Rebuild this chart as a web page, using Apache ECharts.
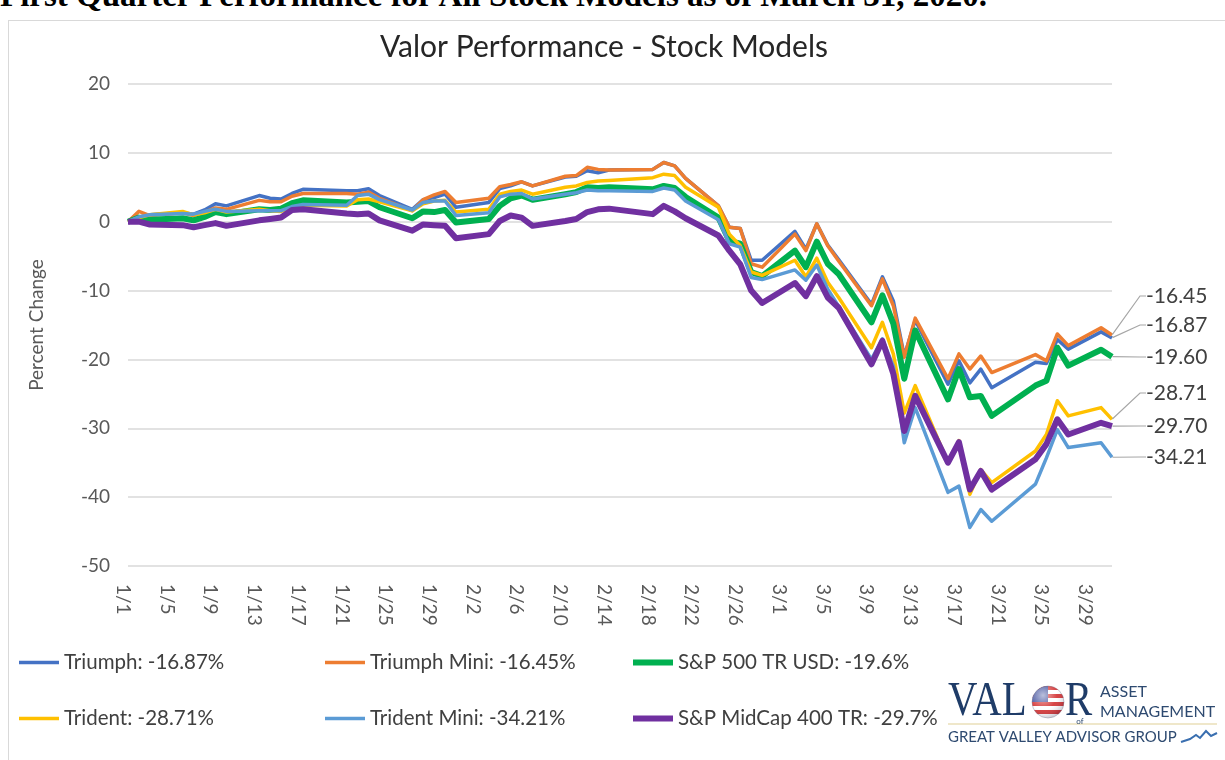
<!DOCTYPE html>
<html><head><meta charset="utf-8">
<script src="https://cdn.jsdelivr.net/npm/echarts@6/dist/echarts.min.js"></script>
<style>
html,body{margin:0;padding:0;background:#fff;overflow:hidden;width:1225px;height:760px;}
#hdr{position:absolute;left:0;top:-21px;font:bold 33px "Liberation Serif",serif;line-height:33px;white-space:nowrap;color:#000;}
#frame{position:absolute;left:8px;top:20px;width:1400px;height:900px;border:1px solid #d9d9d9;}
#chart{position:absolute;left:0;top:0;width:1225px;height:760px;}
</style></head><body>
<div id="hdr">First Quarter Performance for All Stock Models as of March 31, 2020.</div>
<div id="frame"></div>
<div id="chart"></div>
<script>
// ---- data ----
const dates = ['1/1','1/2','1/3','1/6','1/7','1/8','1/9','1/10','1/13','1/14','1/15','1/16','1/17','1/21','1/22','1/23','1/24','1/27','1/28','1/29','1/30','1/31',
  '2/3','2/4','2/5','2/6','2/7','2/10','2/11','2/12','2/13','2/14','2/18','2/19','2/20','2/21','2/24','2/25','2/26','2/27','2/28',
  '3/2','3/3','3/4','3/5','3/6','3/9','3/10','3/11','3/12','3/13','3/16','3/17','3/18','3/19','3/20','3/24','3/25','3/26','3/27','3/30','3/31'];
const triumph = [0,0.7,1.0,1.3,1.1,1.7,2.6,2.3,3.8,3.4,3.3,4.1,4.7,4.5,4.5,4.8,3.8,1.8,3.2,3.5,4.0,2.1,
  2.8,4.8,5.2,5.8,5.2,6.5,6.6,7.4,7.1,7.5,7.6,8.6,8.1,6.3,2.3,-0.8,-1.0,-5.6,-5.6,
  -1.4,-4.0,-0.3,-3.4,-5.5,-12.0,-8.0,-11.5,-19.5,-14.3,-23.6,-20.2,-23.4,-21.4,-24.1,-20.4,-20.6,-17.1,-18.5,-16.0,-16.87];
const triumphMini = [0,1.5,0.9,1.3,0.9,1.4,2.0,1.8,3.1,2.9,2.9,3.7,4.1,4.1,4.0,4.3,3.4,1.6,3.2,3.9,4.4,2.8,
  3.4,5.1,5.4,5.8,5.2,6.6,6.7,7.9,7.6,7.5,7.6,8.6,8.1,6.3,2.3,-0.8,-1.0,-6.1,-6.6,
  -1.8,-4.2,-0.3,-3.5,-5.7,-12.2,-8.3,-12.2,-19.7,-14.0,-22.8,-19.2,-21.4,-19.5,-21.9,-19.3,-20.2,-16.3,-18.0,-15.4,-16.45];
const sp500 = [0,0.6,0.3,0.5,0.2,0.7,1.4,1.1,1.8,1.7,1.9,2.7,3.1,2.8,2.9,3.0,2.1,0.5,1.5,1.4,1.7,-0.1,
  0.4,2.3,3.4,3.8,3.2,4.0,4.3,5.0,4.9,5.0,4.7,5.2,4.9,3.6,0.6,-2.8,-3.2,-7.3,-7.9,
  -4.2,-6.6,-2.9,-6.1,-7.6,-14.6,-10.7,-14.8,-22.8,-15.8,-25.8,-21.4,-25.5,-25.3,-28.2,-23.8,-23.1,-18.3,-20.9,-18.6,-19.60];
const trident = [0,0.6,1.0,1.5,1.0,1.3,1.8,1.4,1.8,1.6,1.5,2.0,2.4,2.3,3.2,3.3,2.9,1.6,2.6,3.0,3.1,1.4,
  1.8,4.0,4.4,4.6,4.0,5.0,5.2,5.7,5.9,6.0,6.4,6.9,6.7,5.0,2.1,-1.8,-3.5,-7.3,-7.8,
  -5.6,-8.0,-5.3,-8.8,-11.0,-18.3,-14.6,-19.2,-27.8,-23.8,-35.0,-31.8,-39.6,-36.0,-37.9,-33.3,-30.9,-26.0,-28.2,-27.0,-28.71];
const tridentMini = [0,0.7,1.0,1.2,1.1,1.5,1.8,1.5,1.6,1.6,1.6,2.2,2.5,2.4,3.8,4.0,3.2,1.7,2.8,3.0,3.0,0.9,
  1.3,3.6,4.0,4.1,3.3,4.0,4.2,4.6,4.5,4.5,4.4,4.9,4.6,3.0,0.3,-3.2,-3.7,-8.1,-8.4,
  -7.0,-8.5,-6.3,-9.8,-12.3,-20.0,-17.0,-21.0,-32.1,-27.0,-39.3,-38.4,-44.4,-41.8,-43.5,-38.1,-34.3,-30.2,-32.8,-32.1,-34.21];
const midcap400 = [0,0.0,-0.4,-0.5,-0.8,-0.5,-0.2,-0.6,0.2,0.4,0.6,1.7,1.8,1.2,1.1,1.2,0.2,-1.3,-0.4,-0.5,-0.6,-2.4,
  -1.8,0.1,0.9,0.6,-0.6,0.1,0.4,1.4,1.8,1.9,1.1,2.3,1.5,0.5,-2.0,-4.2,-6.2,-10.0,-11.8,
  -8.9,-10.8,-7.9,-11.0,-12.5,-20.7,-17.3,-22.1,-30.4,-25.3,-35.0,-32.0,-38.9,-36.2,-38.9,-34.5,-32.3,-28.7,-30.9,-29.2,-29.70];
const seriesNames = ['Triumph','Triumph Mini','S&P 500 TR USD','Trident','Trident Mini','S&P MidCap 400 TR'];
const legendReturns = ['-16.87%','-16.45%','-19.6%','-28.71%','-34.21%','-29.7%'];
const yMin = -50, yMax = 20, yStep = 10;
const monthLengths = [[1,31],[2,29],[3,31]];
const axisDays = [];
monthLengths.forEach(function(ml){ for (let d = 1; d <= ml[1]; d++) axisDays.push(ml[0] + '/' + d); });

// ---- styles ----
const colors = ['#4472c4','#ed7d31','#00b050','#ffc000','#5b9bd5','#7030a0'];
const widths = [3.5,3.5,6,3.5,3.5,6];
const labelYs = [325,296,357,393,457,426];
const FONT = 'Lato';
const allValues = [triumph, triumphMini, sp500, trident, tridentMini, midcap400];
const names = seriesNames.map(function(n,i){ return n + ': ' + legendReturns[i]; });

const series = allValues.map(function(vals, si){
  const data = axisDays.map(function(day){
    const i = dates.indexOf(day);
    return i < 0 ? null : vals[i];
  });
  const last = data.length - 1;
  data[last] = {
    value: data[last], symbol: 'circle', symbolSize: 1,
    itemStyle: {color: 'rgba(0,0,0,0)', borderWidth: 0},
    label: {show: true, formatter: function(p){ return Number(p.value).toFixed(2); },
      fontSize: 21, color: '#404040', fontFamily: FONT}
  };
  return {
    name: names[si], type: 'line', data: data, connectNulls: true,
    symbol: 'none', showSymbol: true, showAllSymbol: true, clip: false,
    lineStyle: {color: colors[si], width: widths[si], join: 'round'},
    itemStyle: {color: colors[si]},
    emphasis: {disabled: true},
    labelLayout: {x: 1146, y: labelYs[si], align: 'left', verticalAlign: 'middle'},
    labelLine: {show: true, length2: 6, lineStyle: {color: '#a6a6a6', width: 1.2}},
    z: 2 + si
  };
});

function legendCol(left, items, thick) {
  return {orient: 'vertical', left: left, top: 652, padding: 0, itemGap: 35, itemWidth: 40, itemHeight: thick,
    icon: 'rect', data: items,
    textStyle: {fontSize: 20.5, color: '#404040', fontFamily: FONT, lineHeight: 20}, selectedMode: false};
}

const chart = echarts.init(document.getElementById('chart'), null, {renderer: 'canvas'});
chart.setOption({
  animation: false,
  backgroundColor: 'transparent',
  textStyle: {fontFamily: FONT},
  title: {text: 'Valor Performance - Stock Models', left: 604, textAlign: 'center', top: 32, padding: 0,
    textStyle: {fontSize: 30, fontWeight: 'normal', color: '#262626', fontFamily: FONT}},
  grid: {left: 128, right: 113, top: 84, bottom: 194, containLabel: false, outerBoundsMode: 'none'},
  legend: [
    legendCol(19, [names[0], names[3]], 3.5),
    legendCol(325, [names[1], names[4]], 3.5),
    legendCol(633, [names[2], names[5]], 6)
  ],
  xAxis: {type: 'category', data: axisDays, boundaryGap: false,
    axisLine: {show: false}, axisTick: {show: false}, splitLine: {show: false},
    axisLabel: {interval: 3, rotate: -90, fontSize: 19, color: '#595959', margin: 18,
      verticalAlign: 'top', lineHeight: 10, fontFamily: FONT}},
  yAxis: {type: 'value', min: yMin, max: yMax, interval: yStep,
    name: 'Percent Change', nameLocation: 'middle', nameGap: 82, nameRotate: 90,
    nameTextStyle: {fontSize: 19, color: '#595959', fontFamily: FONT},
    axisLine: {show: false}, axisTick: {show: false},
    axisLabel: {fontSize: 19, color: '#595959', margin: 18, fontFamily: FONT},
    splitLine: {lineStyle: {color: '#d9d9d9', width: 1.5}}},
  series: series,
  graphic: [
    {type: 'text', x: 948, y: 702, scaleX: 0.85, style: {text: 'VAL', fill: '#1f3c68', font: '48px "Liberation Serif"', verticalAlign: 'middle', textVerticalAlign: 'middle'}},
    {type: 'circle', shape: {cx: 1048, cy: 702, r: 16}, style: {fill: new echarts.graphic.LinearGradient(0, 0, 0, 1, [
      {offset: 0, color: '#d32f2f'}, {offset: 0.13, color: '#d32f2f'}, {offset: 0.13, color: '#ffffff'}, {offset: 0.25, color: '#ffffff'},
      {offset: 0.25, color: '#d32f2f'}, {offset: 0.38, color: '#d32f2f'}, {offset: 0.38, color: '#ffffff'}, {offset: 0.5, color: '#ffffff'},
      {offset: 0.5, color: '#d32f2f'}, {offset: 0.63, color: '#d32f2f'}, {offset: 0.63, color: '#ffffff'}, {offset: 0.75, color: '#ffffff'},
      {offset: 0.75, color: '#d32f2f'}, {offset: 0.88, color: '#d32f2f'}, {offset: 0.88, color: '#ffffff'}, {offset: 1, color: '#ffffff'}])}},
    {type: 'sector', shape: {cx: 1048, cy: 702, r: 16, r0: 0, startAngle: Math.PI, endAngle: Math.PI * 1.5}, style: {fill: '#3a4a9a'}},
    {type: 'circle', shape: {cx: 1048, cy: 702, r: 16}, style: {fill: new echarts.graphic.RadialGradient(0.35, 0.3, 0.7, [
      {offset: 0, color: 'rgba(255,255,255,0.65)'}, {offset: 0.6, color: 'rgba(255,255,255,0.1)'}, {offset: 1, color: 'rgba(60,60,90,0.25)'}]), stroke: 'rgba(120,120,140,0.4)', lineWidth: 1}},
    {type: 'text', x: 1065, y: 702, scaleX: 0.85, style: {text: 'R', fill: '#1f3c68', font: '48px "Liberation Serif"', verticalAlign: 'middle', textVerticalAlign: 'middle'}},
    {type: 'text', x: 1100, y: 692, style: {text: 'ASSET', fill: '#2e4a70', font: '16px Lato', verticalAlign: 'middle', textVerticalAlign: 'middle'}},
    {type: 'text', x: 1100, y: 712, style: {text: 'MANAGEMENT', fill: '#2e4a70', font: '16px Lato', verticalAlign: 'middle', textVerticalAlign: 'middle'}},
    {type: 'line', shape: {x1: 948, y1: 724, x2: 1217, y2: 724}, style: {stroke: '#eadfb8', lineWidth: 1.5}},
    {type: 'text', x: 1080, y: 721, style: {text: 'of', fill: '#2e4a70', font: '8px Lato', align: 'center', textAlign: 'center', verticalAlign: 'middle', textVerticalAlign: 'middle'}},
    {type: 'text', x: 948, y: 737, style: {text: 'GREAT VALLEY ADVISOR GROUP', fill: '#2e4a70', font: '15px Lato', verticalAlign: 'middle', textVerticalAlign: 'middle'}},
    {type: 'polyline', shape: {points: [[1181,742],[1190,739],[1196,735],[1200,738],[1206,731],[1211,736],[1217,733]]}, style: {stroke: '#3a6fb0', lineWidth: 2, fill: null}}
  ]
});
</script></body></html>
